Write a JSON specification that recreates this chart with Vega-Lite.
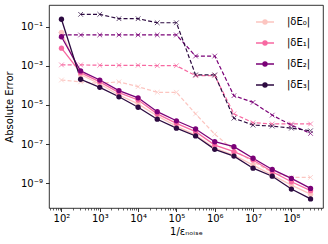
{
  "$schema": "https://vega.github.io/schema/vega-lite/v6.json",
  "width": 274,
  "height": 203,
  "autosize": {"type": "none"},
  "padding": {"left": 49, "top": 5, "right": 5, "bottom": 36},
  "background": "white",
  "config": {
    "font": "DejaVu Sans",
    "view": {"stroke": "black", "strokeWidth": 0.8},
    "axis": {"grid": false, "domain": false, "tickColor": "black", "labelColor": "black", "titleColor": "black", "labelFont": "DejaVu Sans", "titleFont": "DejaVu Sans", "labelFontSize": 10, "titleFontSize": 10, "titleFontWeight": "normal", "tickWidth": 0.8}
  },
  "data": {"values": [
    {"x": 100, "y": 0.050, "s": "|δE₀|", "kind": "solid"},
    {"x": 316.2, "y": 3.5e-4, "s": "|δE₀|", "kind": "solid"},
    {"x": 1000, "y": 1.17e-4, "s": "|δE₀|", "kind": "solid"},
    {"x": 3162, "y": 3.2e-5, "s": "|δE₀|", "kind": "solid"},
    {"x": 1e4, "y": 1.12e-5, "s": "|δE₀|", "kind": "solid"},
    {"x": 31623, "y": 2.7e-6, "s": "|δE₀|", "kind": "solid"},
    {"x": 1e5, "y": 8.3e-7, "s": "|δE₀|", "kind": "solid"},
    {"x": 316228, "y": 2.9e-7, "s": "|δE₀|", "kind": "solid"},
    {"x": 1e6, "y": 6.3e-8, "s": "|δE₀|", "kind": "solid"},
    {"x": 3162278, "y": 2.75e-8, "s": "|δE₀|", "kind": "solid"},
    {"x": 1e7, "y": 8.5e-9, "s": "|δE₀|", "kind": "solid"},
    {"x": 31622777, "y": 2.6e-9, "s": "|δE₀|", "kind": "solid"},
    {"x": 1e8, "y": 8.1e-10, "s": "|δE₀|", "kind": "solid"},
    {"x": 316227766, "y": 2.8e-10, "s": "|δE₀|", "kind": "solid"},

    {"x": 100, "y": 7.8e-3, "s": "|δE₁|", "kind": "solid"},
    {"x": 316.2, "y": 4.4e-4, "s": "|δE₁|", "kind": "solid"},
    {"x": 1000, "y": 1.5e-4, "s": "|δE₁|", "kind": "solid"},
    {"x": 3162, "y": 4.2e-5, "s": "|δE₁|", "kind": "solid"},
    {"x": 1e4, "y": 1.78e-5, "s": "|δE₁|", "kind": "solid"},
    {"x": 31623, "y": 3.5e-6, "s": "|δE₁|", "kind": "solid"},
    {"x": 1e5, "y": 1.15e-6, "s": "|δE₁|", "kind": "solid"},
    {"x": 316228, "y": 4.3e-7, "s": "|δE₁|", "kind": "solid"},
    {"x": 1e6, "y": 8.9e-8, "s": "|δE₁|", "kind": "solid"},
    {"x": 3162278, "y": 4.1e-8, "s": "|δE₁|", "kind": "solid"},
    {"x": 1e7, "y": 1.55e-8, "s": "|δE₁|", "kind": "solid"},
    {"x": 31622777, "y": 3.9e-9, "s": "|δE₁|", "kind": "solid"},
    {"x": 1e8, "y": 1.2e-9, "s": "|δE₁|", "kind": "solid"},
    {"x": 316227766, "y": 4.2e-10, "s": "|δE₁|", "kind": "solid"},

    {"x": 100, "y": 0.030, "s": "|δE₂|", "kind": "solid"},
    {"x": 316.2, "y": 5.4e-4, "s": "|δE₂|", "kind": "solid"},
    {"x": 1000, "y": 1.86e-4, "s": "|δE₂|", "kind": "solid"},
    {"x": 3162, "y": 5.4e-5, "s": "|δE₂|", "kind": "solid"},
    {"x": 1e4, "y": 2.3e-5, "s": "|δE₂|", "kind": "solid"},
    {"x": 31623, "y": 4.5e-6, "s": "|δE₂|", "kind": "solid"},
    {"x": 1e5, "y": 1.55e-6, "s": "|δE₂|", "kind": "solid"},
    {"x": 316228, "y": 5.9e-7, "s": "|δE₂|", "kind": "solid"},
    {"x": 1e6, "y": 1.32e-7, "s": "|δE₂|", "kind": "solid"},
    {"x": 3162278, "y": 7.4e-8, "s": "|δE₂|", "kind": "solid"},
    {"x": 1e7, "y": 1.9e-8, "s": "|δE₂|", "kind": "solid"},
    {"x": 31622777, "y": 5.1e-9, "s": "|δE₂|", "kind": "solid"},
    {"x": 1e8, "y": 1.78e-9, "s": "|δE₂|", "kind": "solid"},
    {"x": 316227766, "y": 5.5e-10, "s": "|δE₂|", "kind": "solid"},

    {"x": 100, "y": 0.234, "s": "|δE₃|", "kind": "solid"},
    {"x": 316.2, "y": 2.04e-4, "s": "|δE₃|", "kind": "solid"},
    {"x": 1000, "y": 7.9e-5, "s": "|δE₃|", "kind": "solid"},
    {"x": 3162, "y": 2.6e-5, "s": "|δE₃|", "kind": "solid"},
    {"x": 1e4, "y": 7.6e-6, "s": "|δE₃|", "kind": "solid"},
    {"x": 31623, "y": 1.86e-6, "s": "|δE₃|", "kind": "solid"},
    {"x": 1e5, "y": 6.5e-7, "s": "|δE₃|", "kind": "solid"},
    {"x": 316228, "y": 2.6e-7, "s": "|δE₃|", "kind": "solid"},
    {"x": 1e6, "y": 5.4e-8, "s": "|δE₃|", "kind": "solid"},
    {"x": 3162278, "y": 2.45e-8, "s": "|δE₃|", "kind": "solid"},
    {"x": 1e7, "y": 5.9e-9, "s": "|δE₃|", "kind": "solid"},
    {"x": 31622777, "y": 2.3e-9, "s": "|δE₃|", "kind": "solid"},
    {"x": 1e8, "y": 5.1e-10, "s": "|δE₃|", "kind": "solid"},
    {"x": 316227766, "y": 1.6e-10, "s": "|δE₃|", "kind": "solid"},

    {"x": 100, "y": 1.86e-4, "s": "|δE₀|", "kind": "dashed"},
    {"x": 316.2, "y": 1.5e-4, "s": "|δE₀|", "kind": "dashed"},
    {"x": 1000, "y": 1.26e-4, "s": "|δE₀|", "kind": "dashed"},
    {"x": 3162, "y": 1.5e-4, "s": "|δE₀|", "kind": "dashed"},
    {"x": 1e4, "y": 8.5e-5, "s": "|δE₀|", "kind": "dashed"},
    {"x": 31623, "y": 4.4e-5, "s": "|δE₀|", "kind": "dashed"},
    {"x": 1e5, "y": 4.4e-5, "s": "|δE₀|", "kind": "dashed"},
    {"x": 316228, "y": 3.5e-6, "s": "|δE₀|", "kind": "dashed"},
    {"x": 1e6, "y": 3.2e-7, "s": "|δE₀|", "kind": "dashed"},
    {"x": 3162278, "y": 5.0e-8, "s": "|δE₀|", "kind": "dashed"},
    {"x": 1e7, "y": 1.26e-8, "s": "|δE₀|", "kind": "dashed"},
    {"x": 31622777, "y": 3.5e-9, "s": "|δE₀|", "kind": "dashed"},
    {"x": 1e8, "y": 2.0e-9, "s": "|δE₀|", "kind": "dashed"},
    {"x": 316227766, "y": 2.0e-9, "s": "|δE₀|", "kind": "dashed"},

    {"x": 100, "y": 1.1e-3, "s": "|δE₁|", "kind": "dashed"},
    {"x": 316.2, "y": 1.1e-3, "s": "|δE₁|", "kind": "dashed"},
    {"x": 1000, "y": 1.05e-3, "s": "|δE₁|", "kind": "dashed"},
    {"x": 3162, "y": 1.05e-3, "s": "|δE₁|", "kind": "dashed"},
    {"x": 1e4, "y": 1.05e-3, "s": "|δE₁|", "kind": "dashed"},
    {"x": 31623, "y": 1.0e-3, "s": "|δE₁|", "kind": "dashed"},
    {"x": 1e5, "y": 1.0e-3, "s": "|δE₁|", "kind": "dashed"},
    {"x": 316228, "y": 3.1e-4, "s": "|δE₁|", "kind": "dashed"},
    {"x": 1e6, "y": 3.1e-4, "s": "|δE₁|", "kind": "dashed"},
    {"x": 3162278, "y": 3.5e-6, "s": "|δE₁|", "kind": "dashed"},
    {"x": 1e7, "y": 1.23e-6, "s": "|δE₁|", "kind": "dashed"},
    {"x": 31622777, "y": 1.07e-6, "s": "|δE₁|", "kind": "dashed"},
    {"x": 1e8, "y": 1.07e-6, "s": "|δE₁|", "kind": "dashed"},
    {"x": 316227766, "y": 1.07e-6, "s": "|δE₁|", "kind": "dashed"},

    {"x": 100, "y": 0.037, "s": "|δE₂|", "kind": "dashed"},
    {"x": 316.2, "y": 0.037, "s": "|δE₂|", "kind": "dashed"},
    {"x": 1000, "y": 0.037, "s": "|δE₂|", "kind": "dashed"},
    {"x": 3162, "y": 0.037, "s": "|δE₂|", "kind": "dashed"},
    {"x": 1e4, "y": 0.037, "s": "|δE₂|", "kind": "dashed"},
    {"x": 31623, "y": 0.037, "s": "|δE₂|", "kind": "dashed"},
    {"x": 1e5, "y": 0.037, "s": "|δE₂|", "kind": "dashed"},
    {"x": 316228, "y": 3.1e-3, "s": "|δE₂|", "kind": "dashed"},
    {"x": 1e6, "y": 3.1e-3, "s": "|δE₂|", "kind": "dashed"},
    {"x": 3162278, "y": 2.95e-5, "s": "|δE₂|", "kind": "dashed"},
    {"x": 1e7, "y": 1.35e-5, "s": "|δE₂|", "kind": "dashed"},
    {"x": 31622777, "y": 3.0e-6, "s": "|δE₂|", "kind": "dashed"},
    {"x": 1e8, "y": 9.3e-7, "s": "|δE₂|", "kind": "dashed"},
    {"x": 316227766, "y": 3.5e-7, "s": "|δE₂|", "kind": "dashed"},

    {"x": 316.2, "y": 0.417, "s": "|δE₃|", "kind": "dashed"},
    {"x": 1000, "y": 0.417, "s": "|δE₃|", "kind": "dashed"},
    {"x": 3162, "y": 0.25, "s": "|δE₃|", "kind": "dashed"},
    {"x": 1e4, "y": 0.25, "s": "|δE₃|", "kind": "dashed"},
    {"x": 31623, "y": 0.155, "s": "|δE₃|", "kind": "dashed"},
    {"x": 1e5, "y": 0.155, "s": "|δE₃|", "kind": "dashed"},
    {"x": 316228, "y": 3.4e-4, "s": "|δE₃|", "kind": "dashed"},
    {"x": 1e6, "y": 3.4e-4, "s": "|δE₃|", "kind": "dashed"},
    {"x": 3162278, "y": 2.1e-6, "s": "|δE₃|", "kind": "dashed"},
    {"x": 1e7, "y": 9.3e-7, "s": "|δE₃|", "kind": "dashed"},
    {"x": 31622777, "y": 8.3e-7, "s": "|δE₃|", "kind": "dashed"},
    {"x": 1e8, "y": 6.5e-7, "s": "|δE₃|", "kind": "dashed"},
    {"x": 316227766, "y": 4.8e-7, "s": "|δE₃|", "kind": "dashed"}
  ]},
  "encoding": {
    "x": {"field": "x", "type": "quantitative",
      "scale": {"type": "log", "domain": [47.3, 668000000], "nice": false, "zero": false},
      "axis": {"title": "1/εₙₒᵢₛₑ", "titlePadding": 3, "labelPadding": 2,
        "values": [50,60,70,80,90,100,200,300,400,500,600,700,800,900,1000,2000,3000,4000,5000,6000,7000,8000,9000,10000,20000,30000,40000,50000,60000,70000,80000,90000,100000,200000,300000,400000,500000,600000,700000,800000,900000,1000000,2000000,3000000,4000000,5000000,6000000,7000000,8000000,9000000,10000000,20000000,30000000,40000000,50000000,60000000,70000000,80000000,90000000,100000000,200000000,300000000,400000000,500000000,600000000],
        "labelOverlap": false, "labelFlush": false,
        "labelExpr": "abs(log(datum.value)/LN10 - round(log(datum.value)/LN10)) < 0.001 ? '10' + ['⁰','¹','²','³','⁴','⁵','⁶','⁷','⁸','⁹'][round(log(datum.value)/LN10)] : ''",
        "tickSize": {"condition": {"test": "abs(log(datum.value)/LN10 - round(log(datum.value)/LN10)) < 0.001", "value": 3.5}, "value": 2},
        "tickWidth": {"condition": {"test": "abs(log(datum.value)/LN10 - round(log(datum.value)/LN10)) < 0.001", "value": 0.8}, "value": 0.6}
      }},
    "y": {"field": "y", "type": "quantitative",
      "scale": {"type": "log", "domain": [5.5e-11, 1.25], "nice": false, "zero": false},
      "axis": {"title": "Absolute Error", "titlePadding": 6, "labelPadding": 3, "tickSize": 3.5,
        "values": [0.1, 0.001, 0.00001, 0.0000001, 0.000000001],
        "labelOverlap": false, "labelFlush": false,
        "labelExpr": "'10⁻' + ['⁰','¹','²','³','⁴','⁵','⁶','⁷','⁸','⁹'][round(-log(datum.value)/LN10)]"
      }},
    "color": {"field": "s", "type": "nominal",
      "scale": {"domain": ["|δE₀|", "|δE₁|", "|δE₂|", "|δE₃|"], "range": ["#fcc5c0", "#f768a1", "#7a0177", "#2c0a40"]},
      "legend": {"title": null, "orient": "none", "legendX": 206, "legendY": 7, "padding": 0,
         "symbolType": "M-1,0H1M0.22,0A0.22,0.22,0,1,1,-0.22,0A0.22,0.22,0,1,1,0.22,0Z",
         "symbolSize": 324, "symbolStrokeWidth": 1.4, "symbolOpacity": 1, "labelFontSize": 10, "labelFont": "DejaVu Sans", "labelColor": "black",
         "rowPadding": 6, "labelOffset": 12,
         "encode": {"symbols": {"update": {"fill": {"scale": "color", "field": "value"}, "stroke": {"scale": "color", "field": "value"}, "strokeDash": {"value": []}, "opacity": {"value": 1}}}}}}
  },
  "layer": [
    {"transform": [{"filter": "datum.kind == 'dashed'"}],
     "mark": {"type": "line", "strokeWidth": 1.2, "strokeDash": [4, 2.2]}},
    {"transform": [{"filter": "datum.kind == 'dashed'"}],
     "mark": {"type": "point", "filled": false, "strokeWidth": 1, "size": 22, "shape": "M-1,-1L1,1M-1,1L1,-1"}},
    {"transform": [{"filter": "datum.kind == 'solid'"}],
     "mark": {"type": "line", "strokeWidth": 1.3}},
    {"transform": [{"filter": "datum.kind == 'solid'"}],
     "mark": {"type": "point", "filled": true, "size": 28, "opacity": 1, "shape": "circle"}}
  ]
}
